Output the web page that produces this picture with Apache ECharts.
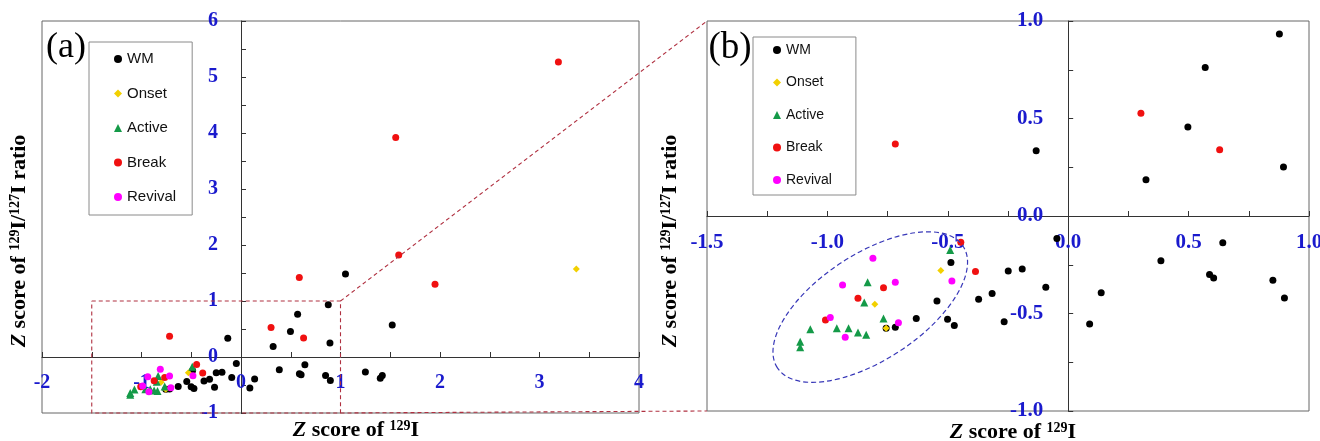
<!DOCTYPE html>
<html><head><meta charset="utf-8">
<script src="https://cdn.jsdelivr.net/npm/echarts@6/dist/echarts.min.js"></script>
<style>html,body{margin:0;padding:0;background:#fff}#c{width:1320px;height:441px}</style>
</head><body><div id="c"></div>
<script>
// ---- data (x = Z score of 129I, y = Z score of 129I/127I ratio) ----
const seriesNames = ['WM', 'Onset', 'Active', 'Break', 'Revival'];
const wm = [
  [-0.756,-0.576], [-0.718,-0.571], [-0.631,-0.525], [-0.545,-0.436], [-0.501,-0.530],
  [-0.473,-0.562], [-0.487,-0.239], [-0.372,-0.427], [-0.316,-0.397], [-0.266,-0.542],
  [-0.249,-0.282], [-0.191,-0.272], [-0.093,-0.366], [-0.047,-0.115], [0.089,-0.554],
  [0.137,-0.393], [0.385,-0.229], [0.587,-0.300], [0.604,-0.318], [0.642,-0.137],
  [0.850,-0.330], [0.898,-0.420], [-0.133,0.335], [0.323,0.186], [0.497,0.456],
  [0.569,0.762], [0.877,0.933], [0.894,0.251], [1.05,1.48], [1.52,0.57],
  [1.25,-0.27], [1.40,-0.38], [1.42,-0.33]
];
const onset = [[-0.803,-0.453], [-0.756,-0.576], [-0.529,-0.280], [3.37,1.57]];
const active = [
  [-0.490,-0.174], [-0.833,-0.340], [-0.847,-0.443], [-0.767,-0.525], [-0.961,-0.576],
  [-0.912,-0.576], [-0.873,-0.597], [-0.839,-0.609], [-1.071,-0.581], [-1.113,-0.645],
  [-1.113,-0.673]
];
const brk = [
  [-0.446,-0.135], [-0.385,-0.285], [-0.767,-0.368], [-0.873,-0.422], [-1.008,-0.533],
  [-0.718,0.369], [0.302,0.527], [0.629,0.340], [0.586,1.42], [1.555,3.92],
  [1.585,1.82], [1.95,1.30], [3.19,5.27]
];
const revival = [
  [-0.811,-0.217], [-0.937,-0.354], [-0.718,-0.340], [-0.988,-0.520], [-0.705,-0.547],
  [-0.926,-0.622], [-0.483,-0.333]
];
// axis ranges / tick steps
const rangeA = {x: [-2, 4], y: [-1, 6], step: 0.5, labelStep: 1};
const rangeB = {x: [-1.5, 1], y: [-1, 1], step: 0.25, labelStep: 0.5};
// annotation: zoom box shown in (a), ellipse centre in (b)
const zoomBox = {x: [-1.5, 1], y: [-1, 1]};
const ellipseCentre = [-0.822, -0.467];
const panelLabels = ['(a)', '(b)'];

const styles = {
  WM: {symbol: 'circle', size: 7, color: '#000000'},
  Onset: {symbol: 'diamond', size: 7, color: '#f2d000'},
  Active: {symbol: 'triangle', size: 8, color: '#149a48'},
  Break: {symbol: 'circle', size: 7, color: '#f01010'},
  Revival: {symbol: 'circle', size: 7, color: '#ff00ff'}
};
const dataByName = {WM: wm, Onset: onset, Active: active, Break: brk, Revival: revival};

const BLUE = '#1a1acd';
const SERIF = '"Liberation Serif", "Times New Roman", serif';
const SANS = '"Liberation Sans", Arial, sans-serif';

function isMult(v, s) { const q = v / s; return Math.abs(q - Math.round(q)) < 1e-9; }

function xAxisCfg(gi, r, dec, fs) {
  return {
    gridIndex: gi, type: 'value', min: r.x[0], max: r.x[1], interval: r.step, position: 'bottom',
    axisLine: {onZero: false, lineStyle: {color: '#333', width: 1}},
    axisTick: {inside: true, length: 5, lineStyle: {color: '#333'}},
    splitLine: {show: false},
    axisLabel: {margin: 16, color: BLUE, fontFamily: SERIF, fontWeight: 'bold', fontSize: fs,
      formatter: v => isMult(v, r.labelStep) ? (dec ? v.toFixed(1) : String(Math.round(v))) : ''}
  };
}
function yAxisCfg(gi, r, dec, fs, margin) {
  return {
    gridIndex: gi, type: 'value', min: r.y[0], max: r.y[1], interval: r.step, position: 'left',
    axisLine: {onZero: false, lineStyle: {color: '#333', width: 1}},
    axisTick: {inside: true, length: 5, lineStyle: {color: '#333'}},
    splitLine: {show: false},
    axisLabel: {margin: margin, color: BLUE, fontFamily: SERIF, fontWeight: 'bold', fontSize: fs,
      formatter: v => isMult(v, r.labelStep) ? (dec ? v.toFixed(1) : String(Math.round(v))) : ''}
  };
}

const series = [];
[0, 1].forEach(gi => {
  seriesNames.forEach(n => {
    const s = styles[n];
    series.push({
      type: 'scatter', name: n, xAxisIndex: gi, yAxisIndex: gi,
      data: dataByName[n], symbol: s.symbol, symbolSize: s.size,
      itemStyle: {color: s.color, opacity: 1}, clip: true,
      emphasis: {disabled: true}
    });
  });
});

function legendCfg(left, top, gap, pad, fs) {
  return {
    orient: 'vertical', left: left, top: top, data: seriesNames,
    itemWidth: 8, itemHeight: 8, itemGap: gap, padding: pad,
    borderColor: '#8a8a8a', borderWidth: 1, backgroundColor: '#fff',
    selectedMode: false,
    textStyle: {fontFamily: SANS, fontSize: fs, color: '#111'}
  };
}

const xAxes = [xAxisCfg(0, rangeA, false, 20), xAxisCfg(1, rangeB, true, 21)];
const yAxes = [yAxisCfg(0, rangeA, false, 20, 23), yAxisCfg(1, rangeB, true, 21, 25)];
const gridsCfg = [
  {left: 42, top: 21, width: 597, height: 392},
  {left: 707, top: 21, width: 602, height: 390}
];

const chart = echarts.init(document.getElementById('c'), null, {renderer: 'canvas'});
chart.setOption({
  animation: false,
  backgroundColor: '#fff',
  grid: gridsCfg.map(g => Object.assign({show: true, borderColor: '#666', borderWidth: 1,
    backgroundColor: 'transparent', outerBoundsMode: 'none', containLabel: false}, g)),
  xAxis: xAxes,
  yAxis: yAxes,
  legend: [legendCfg(89, 42, 19.5, [9.5, 16, 10.5, 25], 15), legendCfg(753, 37, 18.5, [6, 24, 8, 20], 14)],
  series: series
});

const P = (g, v) => chart.convertToPixel({gridIndex: g}, v);
// move each axis onto the zero line of the other axis (through the library's scale)
const zeroA = P(0, [0, 0]), zeroB = P(0 + 1, [0, 0]);
const bottomA = P(0, [rangeA.x[0], rangeA.y[0]]), bottomB = P(1, [rangeB.x[0], rangeB.y[0]]);
chart.setOption({
  xAxis: [{offset: -(bottomA[1] - zeroA[1])}, {offset: -(bottomB[1] - zeroB[1])}],
  yAxis: [{offset: -(zeroA[0] - bottomA[0])}, {offset: -(zeroB[0] - bottomB[0])}]
});

const a1 = P(0, [zoomBox.x[0], zoomBox.y[1]]);
const a2 = P(0, [zoomBox.x[1], zoomBox.y[1]]);
const a3 = P(0, [zoomBox.x[1], zoomBox.y[0]]);
const a4 = P(0, [zoomBox.x[0], zoomBox.y[0]]);
const b1 = P(1, [rangeB.x[0], rangeB.y[1]]);
const b4 = P(1, [rangeB.x[0], rangeB.y[0]]);
const ec = P(1, ellipseCentre);

const RED_DASH = {stroke: '#b03040', lineWidth: 1.1, lineDash: [4, 3], fill: null};
const titleRich = {
  z: {font: 'italic bold 22px ' + SERIF, fill: '#000'},
  t: {font: 'bold 22px ' + SERIF, fill: '#000'},
  s: {font: 'bold 14px ' + SERIF, fill: '#000', verticalAlign: 'top'}
};
const yTitle = '{z|Z}{t| score of }{s|129}{t|I/}{s|127}{t|I ratio}';
const xTitle = '{z|Z}{t| score of }{s|129}{t|I}';
function txt(x, y, text, rot, rich, font) {
  return {type: 'text', x: x, y: y, rotation: rot, z: 50,
    style: {text: text, rich: rich, font: font, fill: '#000',
      align: 'center', verticalAlign: 'middle', textAlign: 'center', textVerticalAlign: 'middle'}};
}

chart.setOption({
  graphic: [
    {type: 'polyline', z: 40, shape: {points: [a1, a2, a3, a4, a1]}, style: RED_DASH},
    {type: 'line', z: 40, shape: {x1: a2[0], y1: a2[1], x2: b1[0], y2: b1[1]}, style: RED_DASH},
    {type: 'line', z: 40, shape: {x1: a3[0], y1: a3[1], x2: b4[0], y2: b4[1]}, style: RED_DASH},
    {type: 'ellipse', z: 40, x: ec[0], y: ec[1], rotation: 0.58,
      shape: {cx: 0, cy: 0, rx: 111, ry: 53},
      style: {fill: null, stroke: '#3838b8', lineWidth: 1.2, lineDash: [5, 3]}},
    txt(66, 48, panelLabels[0], 0, null, '36px ' + SERIF),
    txt(730, 48, panelLabels[1], 0, null, '37px ' + SERIF),
    txt(19, 241, yTitle, Math.PI / 2, titleRich),
    txt(670, 241, yTitle, Math.PI / 2, titleRich),
    txt(356, 430, xTitle, 0, titleRich),
    txt(1013, 432, xTitle, 0, titleRich)
  ]
});
</script></body></html>
